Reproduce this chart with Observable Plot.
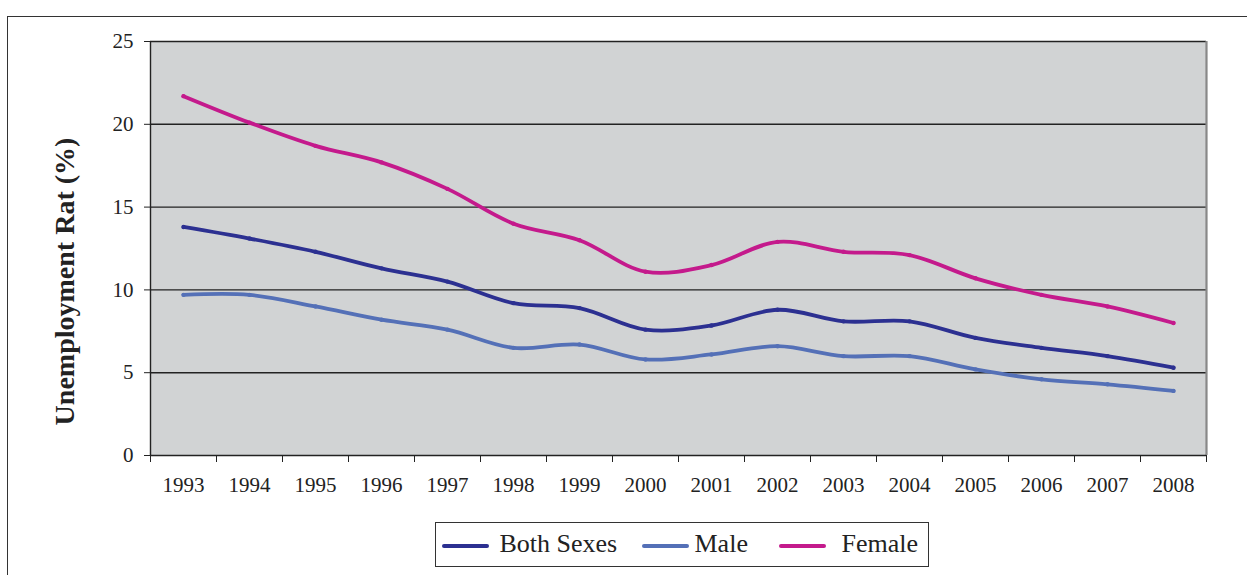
<!DOCTYPE html>
<html><head><meta charset="utf-8">
<script src="https://cdn.jsdelivr.net/npm/d3@7"></script>
<script src="https://cdn.jsdelivr.net/npm/@observablehq/plot@0.6"></script>
<style>
html,body{margin:0;padding:0;background:#fff;overflow:hidden;width:1247px;height:575px;}
#wrap{position:relative;width:1247px;height:575px;}
#border{position:absolute;left:7px;top:16px;width:1300px;height:700px;border:1.5px solid #333;box-sizing:border-box;pointer-events:none;}
#chart svg{display:block;}
#legend{position:absolute;left:435px;top:522px;width:494px;height:45px;border:1.5px solid #333;box-sizing:border-box;font-family:"Liberation Serif","Times New Roman",serif;font-size:26px;color:#222;background:#fff;}
.sw{position:absolute;top:21px;height:4px;width:47px;border-radius:2px;}
.lt{position:absolute;top:8px;line-height:26px;white-space:nowrap;}
</style></head><body>
<div id="wrap"><div id="border"></div><div id="chart"></div><div id="legend"></div></div>
<script>
const years = [1993,1994,1995,1996,1997,1998,1999,2000,2001,2002,2003,2004,2005,2006,2007,2008];
const bothSexes = [13.8,13.1,12.3,11.3,10.5,9.2,8.9,7.6,7.85,8.8,8.1,8.1,7.1,6.5,6.0,5.3];
const male = [9.7,9.7,9.0,8.2,7.6,6.5,6.7,5.8,6.1,6.6,6.0,6.0,5.2,4.6,4.3,3.9];
const female = [21.7,20.1,18.7,17.7,16.1,14.0,13.0,11.1,11.5,12.9,12.3,12.1,10.7,9.7,9.0,8.0];
const seriesNames = ["Both Sexes","Male","Female"];
const seriesColors = ["#2c3091","#5470b7","#c41a8c"];
const yTicks = [0,5,10,15,20,25];
const yLabel = "Unemployment Rat (%)";

const seriesValues = [bothSexes, male, female];
const data = [];
seriesNames.forEach((name, s) => {
  years.forEach((yr, i) => data.push({year: yr, value: seriesValues[s][i], series: name}));
});
const boundaries = years.map(y => y - 0.5).concat([years[years.length - 1] + 0.5]);

const chart = Plot.plot({
  width: 1247, height: 510,
  marginLeft: 150, marginRight: 41, marginTop: 41, marginBottom: 55,
  x: {domain: [boundaries[0], boundaries[boundaries.length - 1]]},
  y: {domain: [0, 25]},
  color: {domain: seriesNames, range: seriesColors},
  style: {fontFamily: "'Liberation Serif','Times New Roman',serif", fontSize: "21px", color: "#222", background: "transparent", overflow: "visible"},
  marks: [
    Plot.frame({fill: "#d1d3d4", stroke: null}),
    Plot.ruleY(yTicks.filter(d => d > 0), {stroke: "#222", strokeWidth: 1.4}),
    Plot.ruleX([boundaries[0]], {stroke: "#222", strokeWidth: 1.4}),
    Plot.ruleX([boundaries[boundaries.length - 1]], {stroke: "#888", strokeWidth: 2.2}),
    Plot.ruleY([0], {stroke: "#222", strokeWidth: 1.4}),
    Plot.axisY({ticks: yTicks, tickSize: 6, tickPadding: 11, label: null, fontSize: 21}),
    Plot.axisX({ticks: boundaries, tickSize: 7, tickFormat: () => "", label: null}),
    Plot.axisX({ticks: years, tickSize: 0, tickPadding: 22, tickFormat: d => String(d), label: null, fontSize: 21}),
    Plot.line(data, {x: "year", y: "value", z: "series", stroke: "series", strokeWidth: 3.8, curve: "catmull-rom"}),
    Plot.dot(data, {x: "year", y: "value", fill: "series", r: 2.2}),
    Plot.text([yLabel], {text: d => d, frameAnchor: "left", textAnchor: "middle", dx: -85, dy: 33, rotate: -90, fontWeight: "bold", fontSize: 28, fill: "#222"})
  ]
});
document.getElementById("chart").appendChild(chart);

const legend = document.getElementById("legend");
const swLeft = [5.5, 205.5, 342.5];
const txLeft = [63.5, 258.5, 405.5];
seriesNames.forEach((name, i) => {
  const sw = document.createElement("div");
  sw.className = "sw";
  sw.style.left = swLeft[i] + "px";
  sw.style.background = seriesColors[i];
  legend.appendChild(sw);
  const t = document.createElement("div");
  t.className = "lt";
  t.style.left = txLeft[i] + "px";
  t.textContent = name;
  legend.appendChild(t);
});
</script>
</body></html>
